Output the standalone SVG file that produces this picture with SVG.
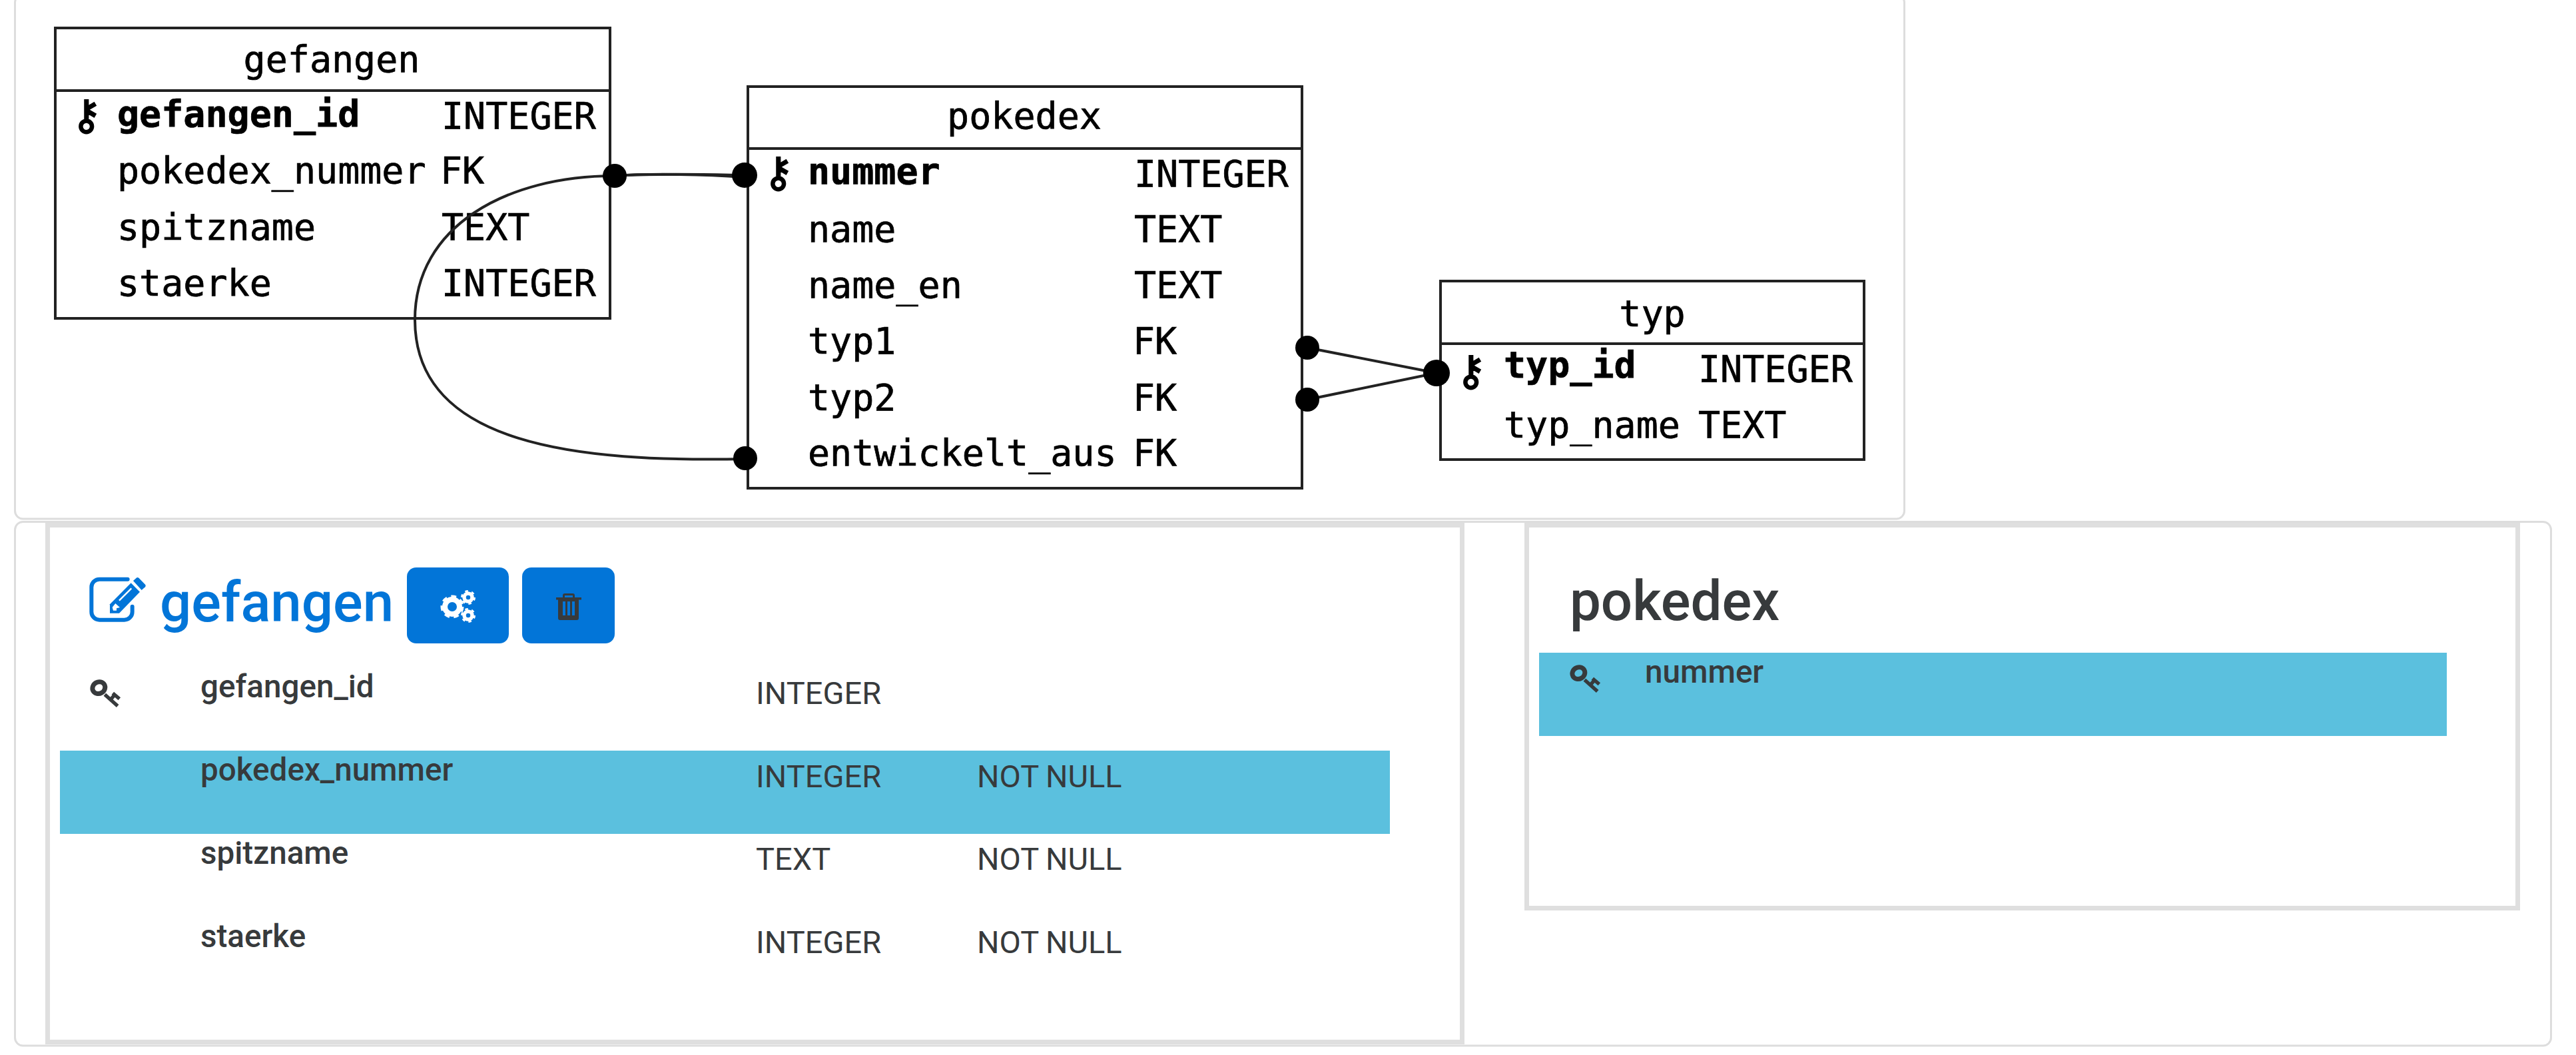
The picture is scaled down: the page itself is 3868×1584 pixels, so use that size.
<svg xmlns="http://www.w3.org/2000/svg" width="3868" height="1584" viewBox="0 0 3868 1584">
<style>
.m{font-family:"DejaVu Sans Mono",monospace;font-size:55px;fill:#000;stroke:#000;stroke-width:.7px}
.b{font-weight:700}
.k{font-family:"DejaVu Sans Mono",monospace;font-size:62px;font-weight:700;fill:#000}
.t{stroke:#222;stroke-width:4;fill:#fff}
.e{stroke:#222;stroke-width:4;fill:none}
.d{fill:#000}
.p{fill:#fff;stroke:#ddd;stroke-width:3}
.x{fill:none;stroke:#dfdfdf;stroke-width:7}
.f{font-family:Roboto,sans-serif;fill:#373a3c}
.n{font-weight:500;font-size:47.6px}
.v{font-weight:400;font-size:47px}
.w{word-spacing:-1px}
.h{font-family:Roboto,sans-serif;font-weight:500;font-size:83.4px}
.r{fill:#5bc0de}
.btn{fill:#0275d8}
</style>
<defs>
<g id="key">
<ellipse cx="85" cy="548" rx="29" ry="26" transform="rotate(-30 85 548)" fill="none" stroke="#373a3c" stroke-width="21"/>
<path d="M112 578L170 630M136 604L152 585M148 572L178 598" fill="none" stroke="#373a3c" stroke-width="16"/>
</g>
</defs>
<rect width="3868" height="1584" fill="#fff"/>
<g id="panels">
<rect class="p" x="22.5" y="783.5" width="3808" height="786.5" rx="12"/>
<rect class="p" x="22.5" y="-8" width="2837" height="787" rx="12"/>
<rect class="x" x="71.5" y="788.5" width="2124" height="776"/>
<rect class="x" x="2292.5" y="788.5" width="1488" height="575"/>
</g>
<g id="gefangen">
<rect class="t" x="83" y="42" width="833" height="436"/>
<path class="e" d="M83 136H916"/>
<text class="m" x="498" y="108" text-anchor="middle">gefangen</text>
<text class="k" x="107" y="194">⚷</text>
<text class="m b" x="176" y="190">gefangen_id</text><text class="m" x="663" y="193">INTEGER</text>
<text class="m" x="176" y="275">pokedex_nummer</text><text class="m" x="661" y="275">FK</text>
<text class="m" x="176" y="360">spitzname</text><text class="m" x="663" y="360">TEXT</text>
<text class="m" x="176" y="444">staerke</text><text class="m" x="663" y="444">INTEGER</text>
</g>
<g id="pokedex">
<rect class="t" x="1123" y="130" width="832" height="603"/>
<path class="e" d="M1123 223H1955"/>
<text class="m" x="1538" y="193" text-anchor="middle">pokedex</text>
<text class="k" x="1146" y="280">⚷</text>
<text class="m b" x="1213" y="276">nummer</text><text class="m" x="1703" y="280">INTEGER</text>
<text class="m" x="1213" y="363">name</text><text class="m" x="1703" y="363">TEXT</text>
<text class="m" x="1213" y="447">name_en</text><text class="m" x="1703" y="447">TEXT</text>
<text class="m" x="1213" y="531">typ1</text><text class="m" x="1701" y="531">FK</text>
<text class="m" x="1213" y="616">typ2</text><text class="m" x="1701" y="616">FK</text>
<text class="m" x="1213" y="699">entwickelt_aus</text><text class="m" x="1701" y="699">FK</text>
</g>
<g id="typ">
<rect class="t" x="2163" y="422" width="636" height="268"/>
<path class="e" d="M2163 516H2799"/>
<text class="m" x="2481" y="490" text-anchor="middle">typ</text>
<text class="k" x="2186" y="578">⚷</text>
<text class="m b" x="2258" y="567">typ_id</text><text class="m" x="2550" y="573">INTEGER</text>
<text class="m" x="2258" y="657">typ_name</text><text class="m" x="2550" y="657">TEXT</text>
</g>
<g id="connectors">
<path class="e" d="M1119 689C870 694 623 670 623 480C623 340 760 264 923 264C990 260 1060 262 1117 263"/>
<path class="e" d="M923 264C980 260 1060 262 1117 266"/>
<path class="e" d="M1963 522L2157 560M1963 600L2157 560"/>
<circle class="d" cx="923" cy="264" r="18"/>
<circle class="d" cx="1118" cy="263" r="19"/>
<circle class="d" cx="1119" cy="688" r="18"/>
<circle class="d" cx="1963" cy="522" r="18"/>
<circle class="d" cx="1963" cy="600" r="18"/>
<circle class="d" cx="2157" cy="560" r="20"/>
</g>
<g id="form-gefangen">
<g transform="translate(120 850) scale(.3333)">
<path d="M215 59H88A36 36 0 0 0 52 95V206A36 36 0 0 0 88 242H200A36 36 0 0 0 236 206V182" fill="none" stroke="#0275d8" stroke-width="18" stroke-linecap="round"/>
<path d="M135 212V172L230 76L270 116L177 212Z" fill="#0275d8"/>
<path d="M240 66L256 52Q261 49 266 54L295 84Q298 90 294 94L278 108Z" fill="#0275d8"/>
<path d="M177 155L232 100" stroke="#fff" stroke-width="7" fill="none"/>
<path d="M146 185L160 168L180 186L165 190L165 200L150 200Z" fill="#fff"/>
</g>
<text class="h" x="240" y="933" fill="#0275d8">gefangen</text>
<rect class="btn" x="611" y="852" width="153" height="114" rx="14"/>
<rect class="btn" x="784" y="852" width="139" height="114" rx="14"/>
<g fill="none" stroke="#fff">
<circle cx="679" cy="911" r="13" stroke-width="9" stroke-dasharray="6.4 5.5"/>
<circle cx="679" cy="911" r="11" stroke-width="8"/>
<circle cx="703" cy="897" r="8.5" stroke-width="5" stroke-dasharray="4 4.9"/>
<circle cx="703" cy="897" r="6" stroke-width="5.5"/>
<circle cx="703" cy="924" r="8.5" stroke-width="5" stroke-dasharray="4 4.9"/>
<circle cx="703" cy="924" r="6" stroke-width="5.5"/>
</g>
<path d="M835 897H845V894Q845 891 848 891H860Q863 891 863 894V897H873V900.5H869V928Q869 931 866 931H841Q838 931 838 928V900.5H835ZM848 897H860V894H848ZM845 903V924H849V903ZM852 903V924H856V903ZM859 903V924H863V903Z" fill="#373a3c" fill-rule="evenodd"/>
<use href="#key" transform="translate(120 850) scale(.3333)"/>
<rect class="r" x="90" y="1127" width="1997" height="125"/>
<text class="f n" x="301" y="1047">gefangen_id</text><text class="f v" x="1135" y="1057">INTEGER</text>
<text class="f n" x="301" y="1172">pokedex_nummer</text><text class="f v" x="1135" y="1182">INTEGER</text><text class="f v w" x="1467" y="1182">NOT NULL</text>
<text class="f n" x="301" y="1297">spitzname</text><text class="f v" x="1135" y="1306">TEXT</text><text class="f v w" x="1467" y="1306">NOT NULL</text>
<text class="f n" x="301" y="1422">staerke</text><text class="f v" x="1135" y="1431">INTEGER</text><text class="f v w" x="1467" y="1431">NOT NULL</text>
</g>
<g id="form-pokedex">
<text class="h" x="2357" y="931" fill="#373a3c">pokedex</text>
<rect class="r" x="2311" y="980" width="1363" height="125"/>
<use href="#key" transform="translate(2342 828) scale(.3333)"/>
<text class="f n" x="2470" y="1025">nummer</text>
</g>
</svg>
